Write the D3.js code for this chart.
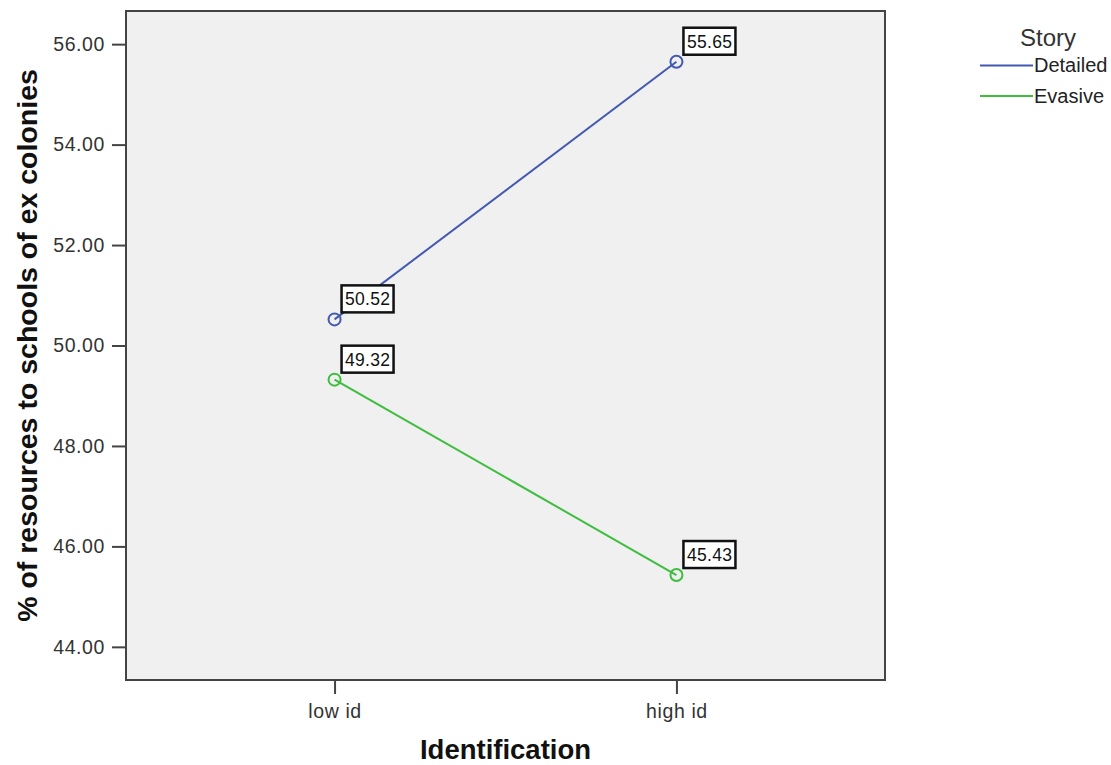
<!DOCTYPE html>
<html>
<head>
<meta charset="utf-8">
<script src="https://cdn.jsdelivr.net/npm/d3@7"></script>
<style>
  body { margin: 0; background: #fff; }
  text { font-family: "Liberation Sans", Arial, sans-serif; }
</style>
</head>
<body>
<script>
// data
var categories = ["low id", "high id"];
var seriesNames = ["Detailed", "Evasive"];
var detailedValues = [50.52, 55.65];
var evasiveValues = [49.32, 45.43];
var yTicks = [44, 46, 48, 50, 52, 54, 56];
var colors = ["#4259b0", "#3ebd3e"];

var width = 1111, height = 765;
var plotLeft = 126, plotRight = 885, plotTop = 11, plotBottom = 680;

var svg = d3.select('body').append('svg').attr('width', width).attr('height', height);

var x = d3.scalePoint().domain(categories).range([plotLeft, plotRight]).padding(0.61);
var y = d3.scaleLinear().domain([43.34, 56.66]).range([plotBottom, plotTop]);

// plot background
svg.append('rect')
  .attr('x', plotLeft).attr('y', plotTop)
  .attr('width', plotRight - plotLeft).attr('height', plotBottom - plotTop)
  .attr('fill', '#f0f0f0').attr('stroke', '#444').attr('stroke-width', 2);

// y axis
var yAxis = svg.append('g')
  .attr('transform', 'translate(' + plotLeft + ',0)')
  .call(d3.axisLeft(y).tickValues(yTicks).tickFormat(d3.format('.2f')).tickSize(14).tickPadding(7));
yAxis.select('.domain').remove();
yAxis.selectAll('line').attr('stroke', '#444').attr('stroke-width', 2);
yAxis.selectAll('text').attr('font-size', 19.5).attr('fill', '#333')
  .style('letter-spacing', '0.6px')
  .style('font-family', '"Liberation Sans", Arial, sans-serif');

// x axis
var xAxis = svg.append('g')
  .attr('transform', 'translate(0,' + plotBottom + ')')
  .call(d3.axisBottom(x).tickSize(14).tickPadding(10));
xAxis.select('.domain').remove();
xAxis.selectAll('line').attr('stroke', '#444').attr('stroke-width', 2);
xAxis.selectAll('text').attr('font-size', 19.5).attr('fill', '#333')
  .style('letter-spacing', '0.6px')
  .style('font-family', '"Liberation Sans", Arial, sans-serif');

// axis titles
svg.append('text')
  .attr('x', (plotLeft + plotRight) / 2).attr('y', 759)
  .attr('text-anchor', 'middle').attr('font-size', 27.5).attr('font-weight', 'bold')
  .attr('fill', '#111')
  .text('Identification');

svg.append('text')
  .attr('transform', 'translate(37,' + ((plotTop + plotBottom) / 2) + ') rotate(-90)')
  .attr('text-anchor', 'middle').attr('font-size', 28.5).attr('font-weight', 'bold')
  .attr('fill', '#111')
  .text('% of resources to schools of ex colonies');

// series
var series = [detailedValues, evasiveValues].map(function(vals, i) {
  return {
    name: seriesNames[i],
    color: colors[i],
    points: vals.map(function(v, j) { return { cat: categories[j], val: v }; })
  };
});

var line = d3.line().x(function(d) { return x(d.cat); }).y(function(d) { return y(d.val); });

series.forEach(function(s) {
  svg.append('path')
    .attr('d', line(s.points))
    .attr('fill', 'none').attr('stroke', s.color).attr('stroke-width', 2);

  svg.selectAll(null).data(s.points).join('circle')
    .attr('cx', function(d) { return x(d.cat); })
    .attr('cy', function(d) { return y(d.val); })
    .attr('r', 6)
    .attr('fill', 'none').attr('stroke', s.color).attr('stroke-width', 2);

  // value labels
  var lab = svg.selectAll(null).data(s.points).join('g')
    .attr('transform', function(d) {
      return 'translate(' + (x(d.cat) + 7) + ',' + (y(d.val) - 34) + ')';
    });
  lab.append('rect')
    .attr('width', 52).attr('height', 27)
    .attr('fill', '#fff').attr('stroke', '#111').attr('stroke-width', 2.5);
  lab.append('text')
    .attr('x', 3.5).attr('y', 20)
    .attr('font-size', 17.5).attr('fill', '#111')
    .style('letter-spacing', '0.3px')
    .text(function(d) { return d3.format('.2f')(d.val); });
});

// legend
var legend = svg.append('g');
legend.append('text')
  .attr('x', 1048).attr('y', 46)
  .attr('text-anchor', 'middle').attr('font-size', 24).attr('fill', '#333')
  .text('Story');
series.forEach(function(s, i) {
  var ly = 65.5 + i * 30.5;
  legend.append('line')
    .attr('x1', 980).attr('x2', 1033).attr('y1', ly).attr('y2', ly)
    .attr('stroke', s.color).attr('stroke-width', 2);
  legend.append('text')
    .attr('x', 1034).attr('y', ly + 6.5)
    .attr('font-size', 20).attr('fill', '#222')
    .text(s.name);
});
</script>
</body>
</html>
